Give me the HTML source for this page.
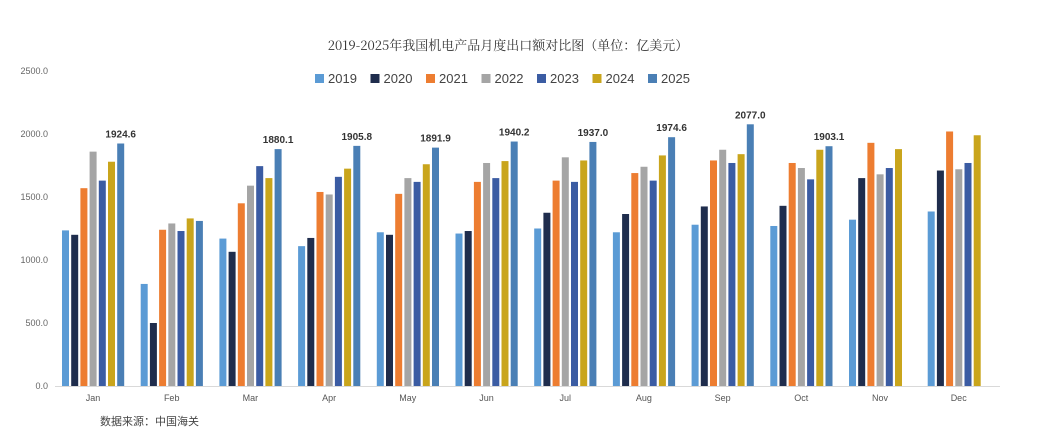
<!DOCTYPE html>
<html><head><meta charset="utf-8"><style>
html,body{margin:0;padding:0;background:#fff;}
svg{display:block;}
text{font-family:"Liberation Sans","Noto Sans CJK SC",sans-serif;}
</style></head><body>
<svg id="c" width="1039" height="441" xmlns="http://www.w3.org/2000/svg">
<rect width="1039" height="441" fill="#fff"/>
<text x="508" y="50" text-anchor="middle" font-size="13" fill="#333" style="font-family:'Noto Serif CJK SC',serif">2019-2025年我国机电产品月度出口额对比图（单位：亿美元）</text>
</svg>
<script>
var s=document.getElementById('c'),NS='http://www.w3.org/2000/svg';
function el(t,a,txt){var e=document.createElementNS(NS,t);for(var k in a)e.setAttribute(k,a[k]);if(txt!=null)e.textContent=txt;s.appendChild(e);return e;}
var cols=['#5b9bd5','#1f2d4d','#ed7d31','#a5a5a5','#3b5ca3','#c9a51c','#4a7fb5'];
var yrs=['2019','2020','2021','2022','2023','2024','2025'];
var base=386,sc=252/2000;
el('line',{x1:55,y1:base+0.5,x2:1000,y2:base+0.5,stroke:'#d9d9d9','stroke-width':1});
for(var i=0;i<=5;i++){var v=i*500;el('text',{x:48,y:base-v*sc+3,'text-anchor':'end','font-size':'9',fill:'#666'},v.toFixed(1));}
var lx=315;
for(var i=0;i<7;i++){el('rect',{x:lx,y:74,width:9,height:9,fill:cols[i]});el('text',{x:lx+13,y:83,'font-size':'13',fill:'#444'},yrs[i]);lx+=55.5;}
var m=['Jan','Feb','Mar','Apr','May','Jun','Jul','Aug','Sep','Oct','Nov','Dec'];
var d=[[1235,1200,1570,1860,1630,1780,1924.6],[810,500,1240,1290,1230,1330,1310],[1170,1065,1450,1590,1745,1650,1880.1],[1110,1175,1540,1520,1660,1725,1905.8],[1220,1200,1525,1650,1620,1760,1891.9],[1210,1230,1620,1770,1650,1785,1940.2],[1250,1375,1630,1815,1620,1790,1937.0],[1220,1365,1690,1740,1630,1830,1974.6],[1280,1425,1790,1875,1770,1840,2077.0],[1270,1430,1770,1730,1640,1875,1903.1],[1320,1650,1930,1680,1730,1880],[1385,1710,2020,1720,1770,1990]];
for(var j=0;j<12;j++){var x0=62+j*78.7;
for(var i=0;i<d[j].length;i++){var h=d[j][i]*sc;el('rect',{x:x0+i*9.2,y:base-h,width:7,height:h,fill:cols[i]});}
if(j<10&&j!=1){var v=d[j][6];el('text',{x:x0+6*9.2+3.5,y:base-v*sc-6,'text-anchor':'middle','font-size':'10','font-weight':'bold',fill:'#333'},v.toFixed(1));}
el('text',{x:x0+31,y:401,'text-anchor':'middle','font-size':'9',fill:'#555'},m[j]);}
el('text',{x:100,y:425,'font-size':'11',fill:'#444'},'数据来源：中国海关');
</script>
</body></html>
